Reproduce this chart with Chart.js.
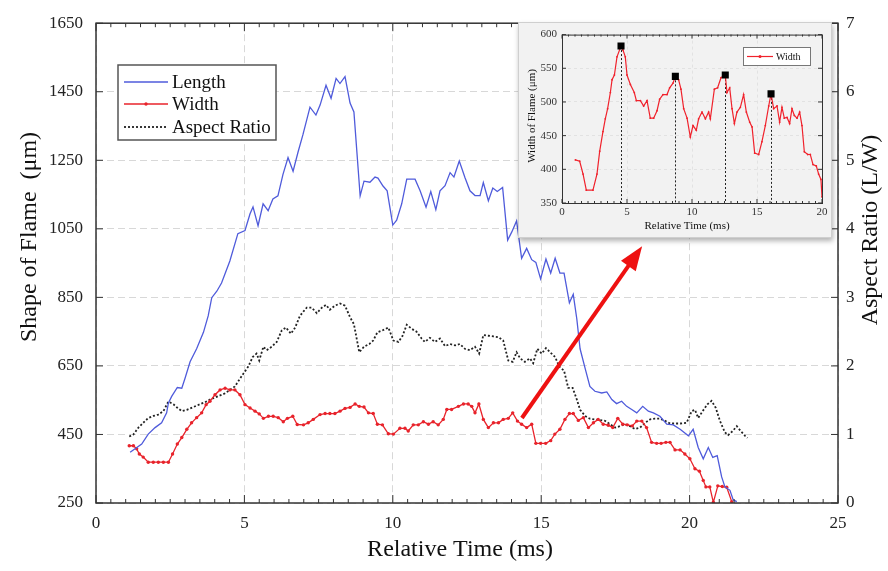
<!DOCTYPE html>
<html>
<head>
<meta charset="utf-8">
<script src="https://cdn.jsdelivr.net/npm/chart.js@4.4.0/dist/chart.umd.min.js"></script>
<style>
  html, body { margin: 0; padding: 0; background: #fff; }
  #wrap { position: relative; width: 888px; height: 571px; overflow: hidden; }
  #main { position: absolute; left: 0; top: 0; }
  #insetBox { position: absolute; left: 518px; top: 22px; width: 314px; height: 216px; box-sizing: border-box;
              background: #f2f2f2; border: 1px solid #cfcfcf; box-shadow: 1px 3px 5px rgba(0,0,0,0.3); }
  #inset { position: absolute; left: 0; top: 0; }
</style>
</head>
<body>
<div id="wrap">
  <canvas id="main" width="888" height="571"></canvas>
  <div id="insetBox"><canvas id="inset" width="312" height="214"></canvas></div>
</div>
<script>
/* ---------- data ---------- */
const lengthTime = [1.15,1.54,1.76,1.99,2.21,2.38,2.44,2.55,2.74,2.89,3.00,3.17,3.39,3.62,3.78,3.90,4.07,4.23,4.51,4.78,
  5.02,5.19,5.29,5.46,5.63,5.80,5.96,6.13,6.30,6.47,6.64,6.81,6.97,7.21,7.41,7.55,7.75,7.92,8.09,8.22,8.39,8.56,8.69,8.90,
  9.03,9.23,9.40,9.50,9.67,9.81,10.00,10.13,10.30,10.47,10.75,10.92,11.12,11.28,11.45,11.59,11.76,11.93,12.06,12.24,12.43,
  12.60,12.77,12.94,13.05,13.22,13.37,13.52,13.70,13.87,14.01,14.17,14.34,14.51,14.68,14.82,14.98,15.16,15.32,15.47,15.63,
  15.77,15.95,16.08,16.20,16.31,16.48,16.64,16.81,17.04,17.21,17.38,17.54,17.71,17.88,18.05,18.22,18.42,18.61,18.78,19.00,
  19.23,19.45,19.68,19.96,20.12,20.29,20.46,20.63,20.78,20.93,21.08,21.19,21.36,21.47,21.59];
const lengthVal = [398,422,451,470,484,513,542,561,587,585,614,662,700,748,796,849,868,892,956,1036,
  1045,1094,1114,1059,1123,1103,1137,1146,1209,1258,1218,1275,1324,1405,1382,1411,1469,1431,1489,1474,1494,1417,1391,1146,
  1189,1186,1201,1198,1175,1161,1061,1075,1123,1195,1195,1161,1113,1159,1106,1161,1176,1214,1201,1248,1200,
  1161,1147,1147,1185,1132,1169,1159,1171,1017,1041,1073,964,993,960,952,904,962,921,964,921,
  921,834,859,787,700,643,590,576,571,574,552,540,547,532,523,513,532,518,513,503,
  480,478,465,446,465,412,379,412,383,388,326,297,287,259,254];

const widthTime = [1.12,1.26,1.37,1.46,1.59,1.76,1.93,2.10,2.27,2.44,2.58,2.74,2.89,3.06,3.22,3.39,3.56,3.71,3.84,4.01,
  4.18,4.35,4.51,4.68,4.85,5.02,5.19,5.36,5.50,5.64,5.81,5.97,6.14,6.31,6.45,6.63,6.78,6.99,7.15,7.32,7.55,7.72,7.88,8.05,
  8.22,8.39,8.56,8.73,8.87,9.03,9.18,9.34,9.48,9.65,9.85,10.02,10.24,10.41,10.52,10.69,10.86,11.03,11.20,11.36,11.53,11.70,
  11.82,11.98,12.21,12.38,12.54,12.66,12.77,12.90,13.05,13.22,13.39,13.56,13.72,13.89,14.04,14.20,14.34,14.51,14.68,14.82,
  14.98,15.15,15.32,15.46,15.63,15.80,15.95,16.08,16.25,16.42,16.59,16.76,16.92,17.09,17.26,17.41,17.58,17.75,17.90,18.07,
  18.22,18.39,18.55,18.72,18.89,19.04,19.20,19.34,19.51,19.68,19.84,20.01,20.18,20.33,20.46,20.55,20.68,20.80,20.95,21.10,
  21.25,21.42];
const widthVal = [417,417,408,393,384,369,369,369,369,369,393,422,441,465,484,499,513,537,547,566,
  580,585,580,580,566,537,527,518,510,497,503,503,499,487,497,503,479,478,484,494,508,511,511,511,
  518,526,529,539,532,530,513,511,480,478,452,451,468,468,460,478,478,487,480,487,478,494,
  523,523,532,539,539,532,513,539,494,470,484,484,494,497,513,489,480,470,480,424,
  424,424,432,451,465,494,511,511,491,499,470,484,494,480,477,470,497,480,478,475,
  489,489,470,427,424,424,427,427,405,405,393,379,350,343,316,297,297,252,300,298,
  296,254];

const ratioTime = [1.12,1.26,1.43,1.59,1.76,1.93,2.10,2.27,2.44,2.61,2.74,2.89,3.06,3.28,3.50,3.67,3.84,4.01,4.18,4.35,
  4.51,4.68,4.83,4.97,5.13,5.28,5.41,5.50,5.64,5.75,5.92,6.09,6.26,6.40,6.57,6.71,6.87,7.00,7.10,7.27,7.44,7.61,7.75,7.88,
  8.05,8.22,8.39,8.56,8.69,8.87,9.03,9.21,9.34,9.48,9.66,9.85,10.02,10.19,10.33,10.47,10.64,10.80,10.97,11.08,11.25,11.42,
  11.59,11.76,11.93,12.10,12.26,12.43,12.60,12.77,12.91,13.05,13.22,13.39,13.56,13.72,13.89,14.04,14.17,14.29,14.45,14.62,
  14.73,14.87,15.02,15.16,15.30,15.47,15.61,15.77,15.91,16.06,16.20,16.31,16.48,16.64,16.81,16.98,17.15,17.32,17.49,17.65,
  17.82,17.99,18.16,18.33,18.50,18.67,18.83,19.00,19.17,19.34,19.51,19.68,19.90,20.07,20.18,20.29,20.44,20.60,20.74,20.88,
  21.02,21.19,21.30,21.45,21.59,21.72,21.87,21.95];
const ratioVal = [0.97,1.00,1.10,1.17,1.24,1.27,1.29,1.34,1.48,1.44,1.39,1.34,1.36,1.40,1.44,1.47,1.51,1.54,1.57,1.60,
  1.65,1.70,1.80,1.89,1.99,2.13,2.18,2.08,2.28,2.23,2.28,2.35,2.52,2.56,2.47,2.56,2.73,2.80,2.85,2.85,2.77,2.85,2.89,2.82,
  2.88,2.91,2.88,2.71,2.61,2.20,2.28,2.32,2.37,2.49,2.52,2.56,2.37,2.35,2.44,2.60,2.54,2.50,2.40,2.35,2.41,2.35,
  2.40,2.29,2.32,2.30,2.32,2.25,2.23,2.28,2.18,2.45,2.44,2.43,2.42,2.37,2.08,2.06,2.20,2.11,2.06,2.11,
  2.04,2.25,2.18,2.26,2.20,2.13,1.99,1.93,1.68,1.68,1.51,1.36,1.27,1.23,1.22,1.21,1.20,1.15,1.10,1.12,
  1.15,1.12,1.08,1.10,1.17,1.22,1.23,1.23,1.20,1.16,1.16,1.16,1.17,1.34,1.36,1.24,1.34,1.44,1.49,1.39,
  1.20,1.03,0.99,1.05,1.12,1.05,0.98,0.95];

const insetTime = [1.03,1.36,1.62,1.87,2.38,2.69,2.90,3.15,3.33,3.51,3.72,3.85,4.03,4.23,4.54,4.69,4.87,5.00,5.26,5.56,
  5.72,6.03,6.28,6.54,6.79,7.05,7.31,7.51,7.77,8.08,8.28,8.54,8.72,8.97,9.15,9.36,9.62,9.87,10.08,10.33,10.51,10.77,11.03,
  11.28,11.41,11.72,11.97,12.23,12.56,12.69,12.90,13.08,13.26,13.46,13.72,13.97,14.18,14.44,14.62,14.82,15.13,15.38,15.64,
  15.90,16.08,16.28,16.54,16.74,16.92,17.10,17.31,17.51,17.69,17.87,18.08,18.28,18.46,18.64,18.90,19.10,19.31,19.56,19.74,
  19.92,20.00];
const insetVal = [414,412,393,369,369,393,427,456,475,490,514,533,540,567,583,577,567,540,526,514,
  502,502,494,502,476,476,487,504,511,511,521,528,538,533,519,490,476,448,465,458,475,485,475,
  485,475,519,521,536,540,514,521,490,468,485,492,511,485,470,463,424,422,441,465,
  494,512,490,494,470,492,476,477,468,490,480,476,485,465,426,422,422,407,405,393,
  385,359];
const peakTime = [4.54, 8.72, 12.56, 16.08];
const peakVal = [583, 538, 540, 512];

const xTicks = [0, 5, 10, 15, 20, 25];
const leftTicks = [250, 450, 650, 850, 1050, 1250, 1450, 1650];
const rightTicks = [0, 1, 2, 3, 4, 5, 6, 7];
const insetXTicks = [0, 5, 10, 15, 20];
const insetYTicks = [350, 400, 450, 500, 550, 600];

// arrow from the width curve toward the inset, in data units (ms, µm)
const arrowFrom = [14.35, 498];
const arrowTo = [18.4, 999];

const SERIF = '"Liberation Serif", "Times New Roman", serif';
const pts = (xs, ys) => xs.map((x, i) => ({ x, y: ys[i] }));
const fixTicks = list => s => { s.ticks = list.map(v => ({ value: v })); };
const plain = v => String(v);

/* ---------- main chart ---------- */
const mainDecor = {
  id: 'mainDecor',
  afterDatasetsDraw(chart) {
    const { ctx, chartArea: a, scales: { x, y, y1 } } = chart;
    ctx.save();

    // red arrow
    const x0 = x.getPixelForValue(arrowFrom[0]), y0 = y.getPixelForValue(arrowFrom[1]);
    const x1 = x.getPixelForValue(arrowTo[0]), y1p = y.getPixelForValue(arrowTo[1]);
    const len = Math.hypot(x1 - x0, y1p - y0), ux = (x1 - x0) / len, uy = (y1p - y0) / len;
    const hl = 24, hw = 9;
    const bx = x1 - ux * hl, by = y1p - uy * hl;
    ctx.strokeStyle = '#ee1111'; ctx.fillStyle = '#ee1111'; ctx.lineWidth = 4;
    ctx.beginPath(); ctx.moveTo(x0, y0); ctx.lineTo(bx + ux * 2, by + uy * 2); ctx.stroke();
    ctx.beginPath();
    ctx.moveTo(x1, y1p);
    ctx.lineTo(bx - uy * hw, by + ux * hw);
    ctx.lineTo(bx + uy * hw, by - ux * hw);
    ctx.closePath(); ctx.fill();

    // frame
    ctx.strokeStyle = '#333'; ctx.lineWidth = 1.5;
    ctx.strokeRect(a.left, a.top, a.right - a.left, a.bottom - a.top);

    // inward ticks
    ctx.lineWidth = 1;
    ctx.beginPath();
    for (let k = 0; k <= 50; k++) {
      const px = x.getPixelForValue(k * 0.5);
      const t = k % 10 === 0 ? 8 : 4;
      ctx.moveTo(px, a.bottom); ctx.lineTo(px, a.bottom - t);
      ctx.moveTo(px, a.top); ctx.lineTo(px, a.top + t);
    }
    leftTicks.forEach(v => { const py = y.getPixelForValue(v); ctx.moveTo(a.left, py); ctx.lineTo(a.left + 7, py); });
    rightTicks.forEach(v => { const py = y1.getPixelForValue(v); ctx.moveTo(a.right, py); ctx.lineTo(a.right - 7, py); });
    ctx.stroke();

    // legend
    const lx = 118, ly = 65, lw = 158, lh = 75;
    ctx.fillStyle = '#fff'; ctx.fillRect(lx, ly, lw, lh);
    ctx.strokeStyle = '#555'; ctx.lineWidth = 1.5; ctx.strokeRect(lx, ly, lw, lh);
    const rows = [82, 104, 127];
    chart.data.datasets.forEach((ds, i) => {
      const ry = rows[i];
      ctx.strokeStyle = ds.borderColor; ctx.lineWidth = ds.borderWidth;
      ctx.setLineDash(ds.borderDash || []);
      ctx.beginPath(); ctx.moveTo(124, ry); ctx.lineTo(168, ry); ctx.stroke();
      ctx.setLineDash([]);
      if (ds.pointRadius) {
        ctx.fillStyle = ds.borderColor;
        ctx.beginPath(); ctx.arc(146, ry, ds.pointRadius, 0, Math.PI * 2); ctx.fill();
      }
      ctx.fillStyle = '#111'; ctx.font = '19px ' + SERIF;
      ctx.textAlign = 'left'; ctx.textBaseline = 'middle';
      ctx.fillText(ds.label, 172, ry + 1);
    });

    // axis titles
    ctx.fillStyle = '#111'; ctx.font = '24px ' + SERIF;
    ctx.textAlign = 'center'; ctx.textBaseline = 'middle';
    ctx.fillText('Relative Time (ms)', 460, 550);
    ctx.save(); ctx.translate(30, 237); ctx.rotate(-Math.PI / 2);
    ctx.fillText('Shape of Flame  (\u03bcm)', 0, 0); ctx.restore();
    ctx.save(); ctx.translate(871, 230); ctx.rotate(-Math.PI / 2);
    ctx.fillText('Aspect Ratio (L/W)', 0, 0); ctx.restore();

    ctx.restore();
  }
};

const tickFont = { family: SERIF, size: 17 };

new Chart(document.getElementById('main'), {
  type: 'line',
  data: {
    datasets: [
      { label: 'Length', data: pts(lengthTime, lengthVal), yAxisID: 'y',
        borderColor: '#4f5bdb', borderWidth: 1.3, pointRadius: 0 },
      { label: 'Width', data: pts(widthTime, widthVal), yAxisID: 'y',
        borderColor: '#e8232b', borderWidth: 1.3, pointRadius: 1.7,
        pointBackgroundColor: '#e8232b', pointBorderWidth: 0 },
      { label: 'Aspect Ratio', data: pts(ratioTime, ratioVal), yAxisID: 'y1',
        borderColor: '#222', borderWidth: 1.8, borderDash: [2, 2], pointRadius: 0 }
    ]
  },
  options: {
    responsive: false, animation: false, devicePixelRatio: 1,
    layout: { padding: { top: 17, left: 0, right: 0, bottom: 0 } },
    plugins: { legend: { display: false }, tooltip: { enabled: false } },
    scales: {
      x: { type: 'linear', min: 0, max: 25,
        afterBuildTicks: fixTicks(xTicks), afterFit: s => { s.height = 68; },
        grid: { color: '#d8d8d8', lineWidth: 1, drawTicks: false },
        border: { display: false, dash: [7, 4] },
        ticks: { padding: 10, color: '#222', font: tickFont, maxRotation: 0, autoSkip: false, callback: plain } },
      y: { type: 'linear', position: 'left', min: 250, max: 1650,
        afterBuildTicks: fixTicks(leftTicks), afterFit: s => { s.width = 96; },
        grid: { color: '#d8d8d8', lineWidth: 1, drawTicks: false },
        border: { display: false, dash: [7, 4] },
        ticks: { padding: 13, color: '#222', font: tickFont, autoSkip: false, callback: plain } },
      y1: { type: 'linear', position: 'right', min: 0, max: 7,
        afterBuildTicks: fixTicks(rightTicks), afterFit: s => { s.width = 50; },
        grid: { drawOnChartArea: false, drawTicks: false },
        border: { display: false },
        ticks: { padding: 8, color: '#222', font: tickFont, autoSkip: false, callback: plain } }
    }
  },
  plugins: [mainDecor]
});

/* ---------- inset chart ---------- */
const insetDecor = {
  id: 'insetDecor',
  beforeDatasetsDraw(chart) {
    const { ctx, chartArea: a, scales: { x, y } } = chart;
    ctx.save();
    ctx.strokeStyle = '#222'; ctx.lineWidth = 1; ctx.setLineDash([2, 2]);
    ctx.beginPath();
    peakTime.forEach((t, i) => {
      const px = Math.round(x.getPixelForValue(t)) + 0.5;
      ctx.moveTo(px, y.getPixelForValue(peakVal[i])); ctx.lineTo(px, a.bottom);
    });
    ctx.stroke();
    ctx.restore();
  },
  afterDatasetsDraw(chart) {
    const { ctx, chartArea: a, scales: { x, y } } = chart;
    ctx.save();
    ctx.strokeStyle = '#333'; ctx.lineWidth = 1;
    ctx.strokeRect(a.left + 0.5, a.top + 0.5, a.right - a.left, a.bottom - a.top);
    ctx.beginPath();
    for (let k = 0; k <= 40; k++) {
      const px = x.getPixelForValue(k * 0.5);
      const t = k % 10 === 0 ? 4 : 2;
      ctx.moveTo(px, a.bottom); ctx.lineTo(px, a.bottom - t);
      ctx.moveTo(px, a.top); ctx.lineTo(px, a.top + t);
    }
    insetYTicks.forEach(v => {
      const py = y.getPixelForValue(v);
      ctx.moveTo(a.left, py); ctx.lineTo(a.left + 4, py);
      ctx.moveTo(a.right, py); ctx.lineTo(a.right - 4, py);
    });
    ctx.stroke();

    // legend
    const ds = chart.data.datasets[0];
    ctx.fillStyle = '#fff'; ctx.fillRect(224, 24, 67, 18);
    ctx.strokeStyle = '#777'; ctx.lineWidth = 1; ctx.strokeRect(224.5, 24.5, 67, 18);
    ctx.strokeStyle = ds.borderColor; ctx.lineWidth = 1.2;
    ctx.beginPath(); ctx.moveTo(228, 33.5); ctx.lineTo(254, 33.5); ctx.stroke();
    ctx.fillStyle = ds.borderColor;
    ctx.beginPath(); ctx.arc(241, 33.5, 1.5, 0, Math.PI * 2); ctx.fill();
    ctx.fillStyle = '#111'; ctx.font = '10px ' + SERIF;
    ctx.textAlign = 'left'; ctx.textBaseline = 'middle';
    ctx.fillText(ds.label, 257, 34);

    // titles
    ctx.font = '11px ' + SERIF; ctx.textAlign = 'center';
    ctx.fillText('Relative Time (ms)', 168, 203);
    ctx.save(); ctx.translate(13, 93); ctx.rotate(-Math.PI / 2);
    ctx.fillText('Width of Flame (\u03bcm)', 0, 0); ctx.restore();
    ctx.restore();
  }
};

const insetFont = { family: SERIF, size: 11 };

new Chart(document.getElementById('inset'), {
  type: 'line',
  data: {
    datasets: [
      { label: 'Width', data: pts(insetTime, insetVal),
        borderColor: '#f0222c', borderWidth: 1.2, pointRadius: 0.9,
        pointBackgroundColor: '#f0222c', pointBorderWidth: 0 },
      { label: 'Peaks', type: 'scatter', data: pts(peakTime, peakVal), showLine: false, order: -1,
        pointStyle: 'rect', pointRadius: 5, backgroundColor: '#000', borderColor: '#000', borderWidth: 0 }
    ]
  },
  options: {
    responsive: false, animation: false, devicePixelRatio: 1,
    layout: { padding: { top: 8, right: 9, left: 0, bottom: 0 } },
    plugins: { legend: { display: false }, tooltip: { enabled: false } },
    scales: {
      x: { type: 'linear', min: 0, max: 20,
        afterBuildTicks: fixTicks(insetXTicks), afterFit: s => { s.height = 34; },
        grid: { color: '#e2e2e2', drawTicks: false }, border: { display: false, dash: [3, 3] },
        ticks: { padding: 3, color: '#333', font: insetFont, maxRotation: 0, autoSkip: false, callback: plain } },
      y: { type: 'linear', min: 350, max: 600,
        afterBuildTicks: fixTicks(insetYTicks), afterFit: s => { s.width = 43; },
        grid: { color: '#e2e2e2', drawTicks: false }, border: { display: false, dash: [3, 3] },
        ticks: { padding: 5, color: '#333', font: insetFont, autoSkip: false, callback: plain } }
    }
  },
  plugins: [insetDecor]
});
</script>
</body>
</html>
